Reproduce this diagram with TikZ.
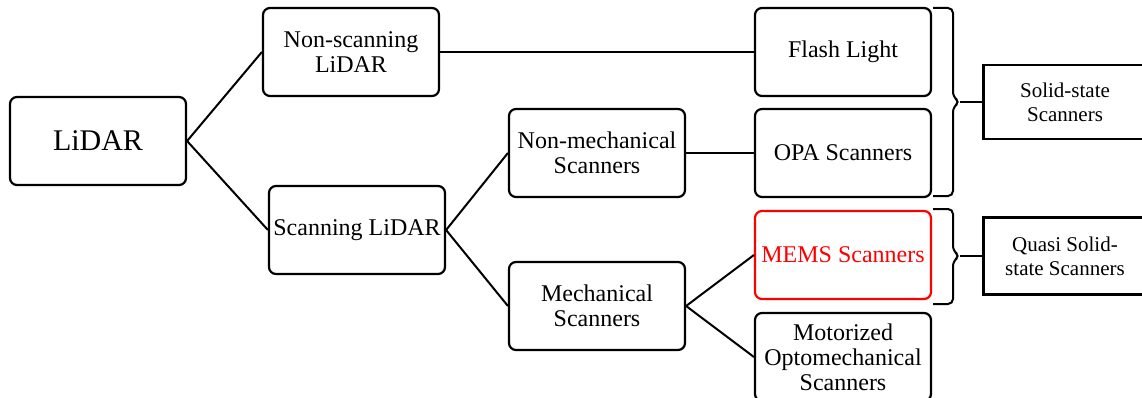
\documentclass[tikz,border=0pt]{standalone}
\usepackage{fontspec}
\setmainfont{Liberation Serif}
\usepackage{tikz}

\tikzset{
  item/.style={draw, line width=2.2pt, rounded corners=7pt, minimum width=176pt,
    minimum height=88pt, inner sep=1pt, align=center,
    font=\fontsize{24}{25}\selectfont},
  group/.style={draw, line width=2.2pt, minimum width=163pt, minimum height=74pt,
    inner sep=1pt, align=center, font=\fontsize{21}{24}\selectfont},
  link/.style={line width=2pt},
  bracket/.style={line width=2pt, rounded corners=5pt}
}

\begin{document}
\begin{tikzpicture}[x=1pt,y=-1pt]
\useasboundingbox (0,0) rectangle (1142,398);
\clip (0,0) rectangle (1142,398);
% tree of boxes
\node[item, font=\fontsize{30}{32}\selectfont] (lidar) at (98,141) {LiDAR};
\node[item] (nonscan) at (351,52) {Non-scanning\\LiDAR};
\node[item] (scan) at (357,230) {Scanning LiDAR};
\node[item] (nonmech) at (597,153) {Non-mechanical\\Scanners};
\node[item] (mech) at (597,306) {Mechanical\\Scanners};
\node[item] (flash) at (843,52) {Flash Light};
\node[item] (opa) at (843,153) {OPA Scanners};
\node[item, draw=red, text=red] (mems) at (843,255) {MEMS Scanners};
\node[item] (motor) at (843,357) {Motorized\\Optomechanical\\Scanners};
% groups on the right
\node[group] (solid) at (1065,102) {Solid-state\\Scanners};
\node[group, minimum height=77pt] (quasi) at (1065,256) {Quasi Solid-\\state Scanners};
% connectors
\draw[link] (lidar.east) -- (nonscan.west);
\draw[link] (lidar.east) -- (scan.west);
\draw[link] (nonscan.east) -- (flash.west);
\draw[link] (scan.east) -- (nonmech.west);
\draw[link] (scan.east) -- (mech.west);
\draw[link] (nonmech.east) -- (opa.west);
\draw[link] (mech.east) -- (mems.west);
\draw[link] (mech.east) -- (motor.west);
% braces
\coordinate (br1) at (960,102);
\coordinate (br2) at (960,256);
\draw[bracket] (933,8) -- (953,8) -- (953,97) -- (br1) -- (953,107) -- (953,196) -- (933,196);
\draw[bracket] (933,209) -- (953,209) -- (953,251) -- (br2) -- (953,261) -- (953,304) -- (933,304);
\draw[link] (br1) -- (solid.west);
\draw[link] (br2) -- (quasi.west);
\end{tikzpicture}
\end{document}
